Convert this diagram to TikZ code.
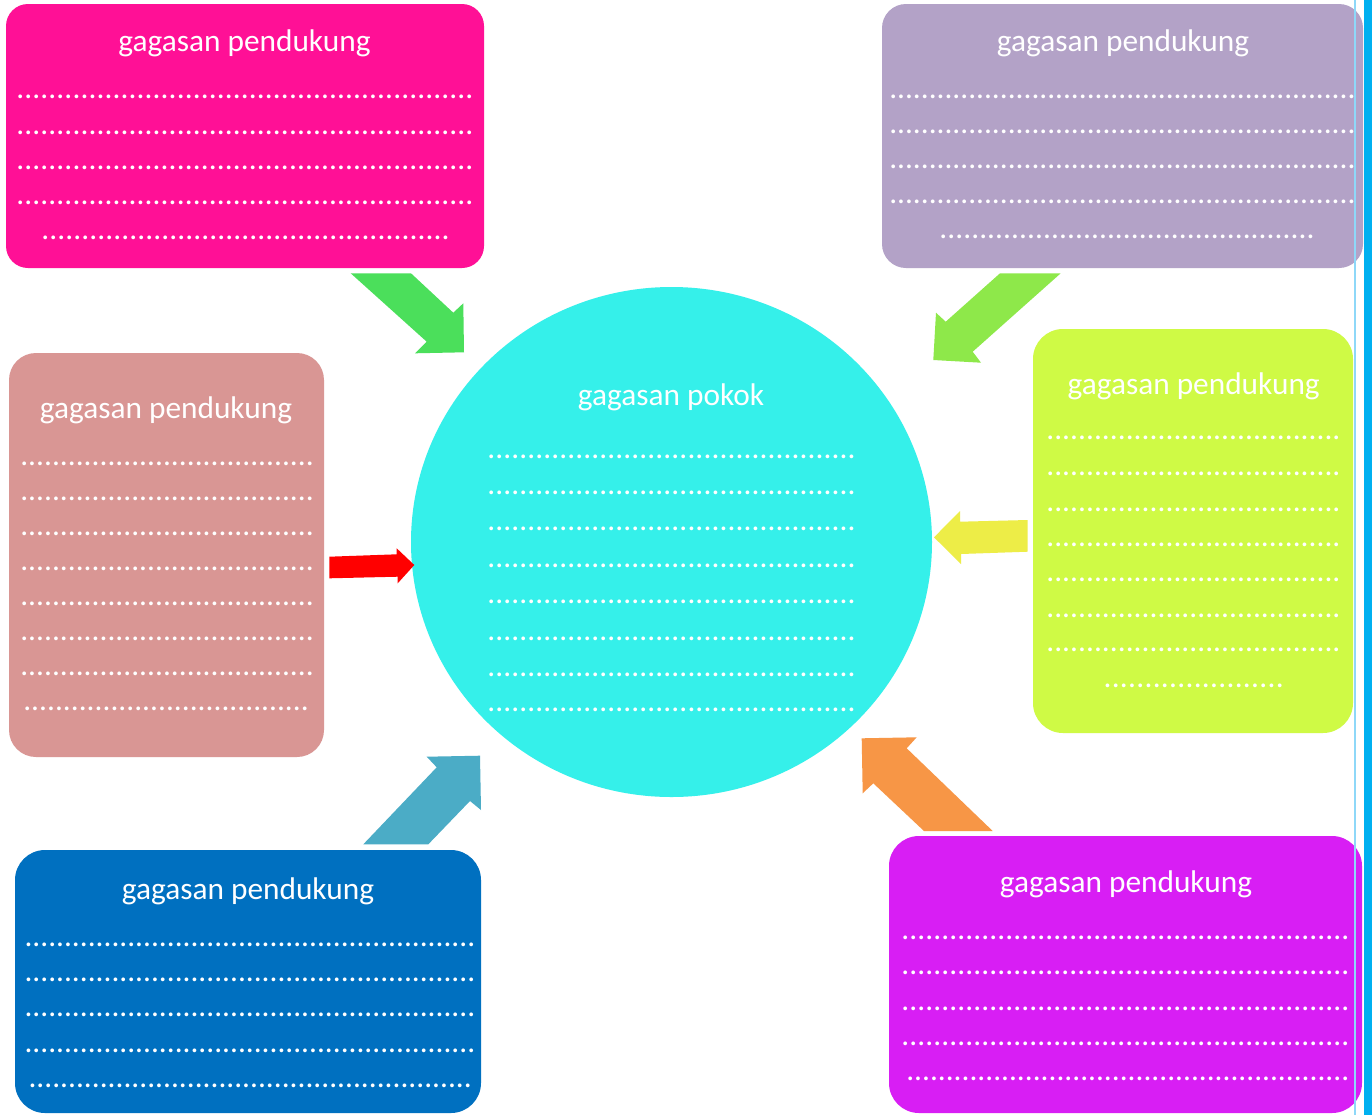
\documentclass[tikz,border=0pt]{standalone}
\usepackage{fontspec}
\setmainfont{Carlito}
\usetikzlibrary{shapes.geometric}
\definecolor{cpink}{HTML}{FF1096}
\definecolor{clav}{HTML}{B3A2C7}
\definecolor{crose}{HTML}{D99694}
\definecolor{clime}{HTML}{CFFA45}
\definecolor{cblue}{HTML}{0070C0}
\definecolor{cmag}{HTML}{D81EF4}
\definecolor{ccyan}{HTML}{35F0EA}
\definecolor{agreen}{HTML}{4BDF5B}
\definecolor{alime}{HTML}{8EE84A}
\definecolor{ayellow}{HTML}{EDED47}
\definecolor{ared}{HTML}{FF0000}
\definecolor{ateal}{HTML}{4BACC6}
\definecolor{aorange}{HTML}{F79646}
\definecolor{lthin}{HTML}{8ED8F8}
\definecolor{lbar}{HTML}{00B0F0}
\newdimen\unitpx \unitpx=0.75pt
\newcommand\rowdots[1]{\hbox to #1\unitpx{\xleaders\hbox{.}\hfill}}
\newcommand\fs{\fontsize{23.5}{28}\selectfont}
\tikzset{
  box/.style={rectangle, draw=none, inner sep=0pt},
  title/.style={anchor=base, inner sep=0pt, text=white, font=\fs},
  dotrow/.style={anchor=base west, inner sep=0pt, text=white, font=\fs},
  blockarrow/.style={draw=none}
}
\begin{document}
\begin{tikzpicture}[x=0.75pt, y=-0.75pt]
\useasboundingbox (0,0) rectangle (1372,1115);
\fill[white] (0,0) rectangle (1372,1115);

% boxes
\node[box, fill=cpink, rounded corners=22\unitpx, minimum width=478\unitpx, minimum height=264\unitpx] (pink) at (245,136) {};
\node[box, fill=clav, rounded corners=24\unitpx, minimum width=481\unitpx, minimum height=264\unitpx] (lav) at (1122.5,136) {};
\node[box, fill=crose, rounded corners=27\unitpx, minimum width=315\unitpx, minimum height=404\unitpx] (rose) at (166.5,555) {};
\node[box, fill=clime, rounded corners=30\unitpx, minimum width=320\unitpx, minimum height=404\unitpx] (lime) at (1193,531) {};
\node[box, fill=cblue, rounded corners=30\unitpx, minimum width=466\unitpx, minimum height=263\unitpx] (blue) at (248,981.5) {};
\node[box, fill=cmag, rounded corners=30\unitpx, minimum width=473\unitpx, minimum height=277\unitpx] (mag) at (1125.5,974.5) {};
\node[ellipse, draw=none, fill=ccyan, inner sep=0pt, minimum width=521\unitpx, minimum height=510\unitpx] (main) at (671.5,542) {};

% titles
\node[title] (tpink) at (244.5,51.7) {gagasan pendukung};
\node[title] (tlav) at (1123,51.7) {gagasan pendukung};
\node[title] (trose) at (166,418) {gagasan pendukung};
\node[title] (tlime) at (1193.7,394) {gagasan pendukung};
\node[title] (tblue) at (248,899) {gagasan pendukung};
\node[title] (tmag) at (1126,892) {gagasan pendukung};
\node[title] (tmain) at (671,405.5) {gagasan pokok};

% dotted rows
\foreach \y [count=\k] in {96.7,132.7,167.7,202.7}
  \node[dotrow] (pk\k) at (16,\y+1.5) {\rowdots{458}};
\node[dotrow] (pk5) at (41,237.7+1.5) {\rowdots{409}};

\foreach \y [count=\k] in {97,132,167,202}
  \node[dotrow] (lv\k) at (889,\y+1.5) {\rowdots{467}};
\node[dotrow] (lv5) at (939,237+1.5) {\rowdots{376}};

\foreach \y [count=\k] in {464,499.3,534,569.3,604,639.3,674}
  \node[dotrow] (rs\k) at (20,\y+1.5) {\rowdots{294}};
\node[dotrow] (rs8) at (23,709.3+1.5) {\rowdots{286}};

\foreach \y [count=\k] in {438.3,474.3,510,545,580,615.7,650}
  \node[dotrow] (lm\k) at (1046,\y+1.5) {\rowdots{294.7}};
\node[dotrow] (lm8) at (1103,685.7+1.5) {\rowdots{181}};

\foreach \y [count=\k] in {945,980,1015,1050.7}
  \node[dotrow] (bl\k) at (24.3,\y+1.5) {\rowdots{451.4}};
\node[dotrow] (bl5) at (28.3,1086+1.5) {\rowdots{444}};

\foreach \y [count=\k] in {938.3,973.3,1009,1044}
  \node[dotrow] (mg\k) at (901,\y+1.5) {\rowdots{449}};
\node[dotrow] (mg5) at (906,1079+1.5) {\rowdots{443.7}};

\foreach \y [count=\k] in {456.6,492.8,529,565.8,602.3,638.5,674.6,710.4}
  \node[dotrow] (mn\k) at (487,\y+1.5) {\rowdots{369}};

% block arrows
\fill[agreen, blockarrow] (350.7,273.3) -- (411,273.3) -- (453.3,312.7) -- (463.3,303.3) -- (464,352.3) -- (415,353.3) -- (426.7,341.7) -- cycle;
\fill[alime, blockarrow] (1000,273.3) -- (1060.7,273.3) -- (972.7,351.7) -- (981,362.7) -- (933.3,360) -- (936,312.7) -- (945.7,321.7) -- cycle;
\fill[ayellow, blockarrow] (1027.7,520) -- (960,521.7) -- (960,511) -- (934,537.3) -- (961,564) -- (961,554) -- (1027.7,551.7) -- cycle;
\fill[ared, blockarrow] (329.3,556.7) -- (396.7,554.3) -- (396.7,548.3) -- (414.3,565) -- (397.7,583.3) -- (397.7,576.7) -- (329.3,578.3) -- cycle;
\fill[ateal, blockarrow] (363.3,844.3) -- (428.3,844.3) -- (470,801) -- (481,810) -- (480,755.7) -- (426.7,756.7) -- (436.7,767.3) -- cycle;
\fill[aorange, blockarrow] (861.7,738.3) -- (916.7,737.3) -- (906.7,748.3) -- (992.7,831) -- (924,831) -- (873.3,783.3) -- (862.7,793.3) -- cycle;

% right edge lines
\draw[lthin, line width=1.5\unitpx] (1355,0) -- (1355,1115);
\fill[lbar] (1364,0) rectangle (1372,1115);
\end{tikzpicture}
\end{document}
